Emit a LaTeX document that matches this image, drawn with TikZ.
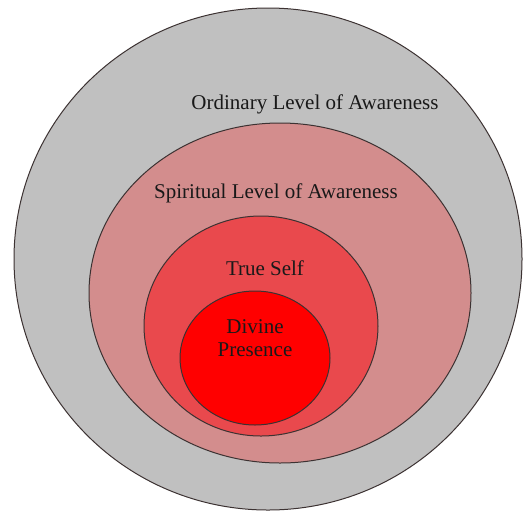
\documentclass[tikz,border=0pt]{standalone}
\usepackage{fontspec}
\setmainfont{Liberation Serif}
\newfontfamily\levelfont{Liberation Serif}
\usetikzlibrary{positioning}

\definecolor{ordinarygray}{RGB}{192,192,192}
\definecolor{spiritualpink}{RGB}{211,141,141}
\definecolor{trueselfred}{RGB}{233,73,77}
\definecolor{divinered}{RGB}{255,0,0}
\definecolor{rimgray}{RGB}{60,50,50}

\begin{document}
\begin{tikzpicture}[
        x=1pt, y=-1pt,
        level/.style={
            draw=rimgray,
            line width=1pt
        },
        levellabel/.style={
            font=\levelfont\fontsize{21}{23}\selectfont,
            text=black!90,
            inner sep=0pt,
            align=center
        }
    ]

        \useasboundingbox[fill=white] (0,0) rectangle (524,512);

        % ---------------------------------------------------------------------
        % Nested levels, from the outside in
        % ---------------------------------------------------------------------

        \draw[level, fill=ordinarygray] (268,259) ellipse [x radius=254, y radius=251];

        \draw[level, fill=spiritualpink] (280,293) ellipse [x radius=191, y radius=170];

        \draw[level, fill=trueselfred] (261,326) ellipse [x radius=117, y radius=110];

        \draw[level, fill=divinered] (255,358) ellipse [x radius=75, y radius=67];

        % ---------------------------------------------------------------------
        % Labels
        % ---------------------------------------------------------------------

        \node[levellabel] (ordinary) at (315,104) {Ordinary Level of Awareness};

        \node[levellabel] (spiritual) at (276,193) {Spiritual Level of Awareness};

        \node[levellabel] (trueself) at (265,268) {True Self};

        \node[levellabel] (divine) at (255,338) {Divine\\Presence};

    \end{tikzpicture}
\end{document}
